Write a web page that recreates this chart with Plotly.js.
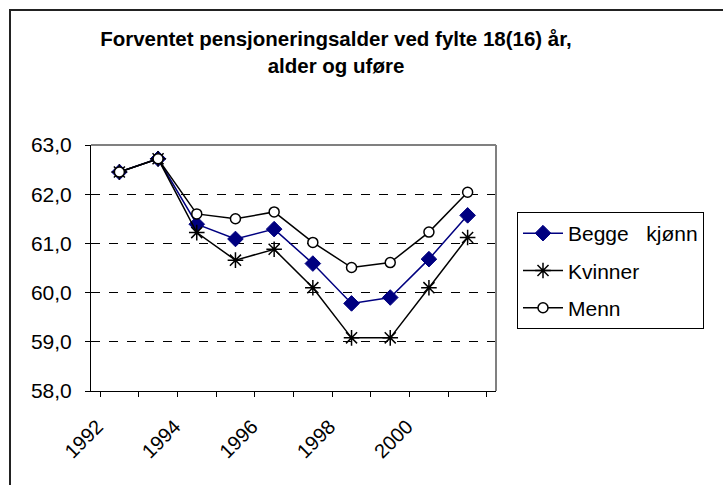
<!DOCTYPE html>
<html>
<head>
<meta charset="utf-8">
<script src="https://cdn.plot.ly/plotly-3.0.1.min.js"></script>
<style>html,body{margin:0;padding:0;background:#fff;}#chart{width:723px;height:485px;}</style>
</head>
<body>
<div id="chart"></div>
<script>
const years = ['1992','1993','1994','1995','1996','1997','1998','1999','2000','2001'];
const tickLabels = ['1992','','1994','','1996','','1998','','2000',''];
const begge = [62.45, 62.72, 61.39, 61.09, 61.29, 60.59, 59.78, 59.90, 60.68, 61.57];
const kvinner = [62.45, 62.72, 61.22, 60.66, 60.88, 60.10, 59.08, 59.08, 60.10, 61.12];
const menn = [62.45, 62.72, 61.60, 61.50, 61.64, 61.02, 60.51, 60.61, 61.23, 62.04];
const seriesNames = ['Begge\u00a0\u00a0\u00a0kjønn', 'Kvinner', 'Menn'];

const FONT = 'Arial, "Liberation Sans", sans-serif';

const traces = [
  {x: years, y: begge, name: seriesNames[0], type: 'scatter', mode: 'lines+markers', legendgroup: 'a',
   line: {color: '#000080', width: 1.5},
   marker: {symbol: 'diamond', size: 12, color: '#000080', line: {color: '#000080', width: 1}}},
  {x: years, y: kvinner, name: seriesNames[1], type: 'scatter', mode: 'lines+markers', legendgroup: 'b',
   line: {color: '#000000', width: 1.5},
   marker: {symbol: 'asterisk-open', size: 13, color: '#000000', line: {color: '#000000', width: 1.5}}},
  {x: years, y: menn, name: seriesNames[2], type: 'scatter', mode: 'lines+markers', legendgroup: 'c',
   line: {color: '#000000', width: 1.5},
   marker: {symbol: 'circle', size: 10, color: '#ffffff', line: {color: '#000000', width: 1.5}}}
];

const L = 91, R = 496, T = 145, B = 391, W = 723, H = 485;
const px = v => (v - L) / (R - L);
const py = v => (B - v) / (B - T);

const layout = {
  width: W, height: H,
  margin: {l: L, r: W - R, t: T, b: H - B, pad: 0},
  paper_bgcolor: '#ffffff', plot_bgcolor: '#ffffff',
  separators: ',.',
  font: {family: FONT, size: 20, color: '#000'},
  title: {text: 'Forventet pensjoneringsalder ved fylte 18(16) år,<br>alder og uføre',
          x: 336 / W, xanchor: 'center', xref: 'container',
          y: 1 - 46 / H, yanchor: 'middle', yref: 'container',
          font: {family: FONT, size: 20.5, weight: 'bold', color: '#000'}},
  xaxis: {type: 'category', tickvals: years, ticktext: tickLabels, tickson: 'boundaries',
          tickangle: -45, ticks: 'outside', ticklen: 5, tickcolor: '#000', tickwidth: 1,
          ticklabelstandoff: 15, ticklabelshift: -22,
          showline: true, linecolor: '#000', linewidth: 1, showgrid: false, zeroline: false,
          tickfont: {family: FONT, size: 20}, fixedrange: true},
  yaxis: {range: [58, 63], dtick: 1, tickformat: '.1f', ticks: 'outside', ticklen: 5,
          tickcolor: '#000', tickwidth: 1, showline: true, linecolor: '#000', linewidth: 1,
          ticklabelstandoff: 9,
          showgrid: true, gridcolor: '#000', griddash: 'dash', gridwidth: 1, zeroline: false,
          tickfont: {family: FONT, size: 21}, fixedrange: true},
  showlegend: true,
  legend: {x: px(517), y: py(212), xanchor: 'left', yanchor: 'top', xref: 'paper', yref: 'paper',
           bordercolor: '#000', borderwidth: 1, bgcolor: '#fff', traceorder: 'grouped',
           tracegroupgap: 7, itemwidth: 40, font: {family: FONT, size: 21, color: '#000'}},
  shapes: [
    {type: 'line', xref: 'paper', yref: 'paper', x0: 0, x1: 1, y0: 1, y1: 1,
     line: {color: '#808080', width: 2}, layer: 'above'},
    {type: 'line', xref: 'paper', yref: 'paper', x0: 1, x1: 1, y0: 0, y1: 1,
     line: {color: '#808080', width: 2}, layer: 'above'},
    {type: 'rect', xref: 'paper', yref: 'paper', x0: px(10), x1: px(760), y0: py(520), y1: py(10),
     line: {color: '#222', width: 2}, layer: 'below'}
  ]
};

Plotly.newPlot('chart', traces, layout, {staticPlot: true, displayModeBar: false});
</script>
</body>
</html>
